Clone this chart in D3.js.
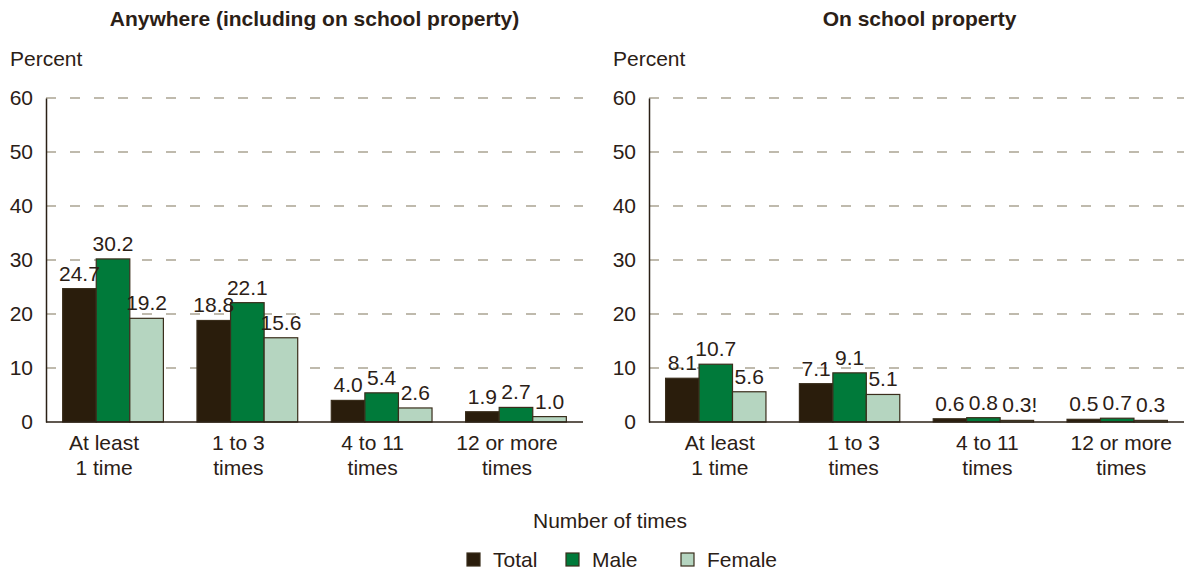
<!DOCTYPE html>
<html>
<head>
<meta charset="utf-8">
<script src="https://cdn.jsdelivr.net/npm/d3@7"></script>
<style>
  body { margin: 0; background: #fff; }
  svg text { font-family: Arial, "Liberation Sans", Helvetica, sans-serif; fill: #2b2016; }
</style>
</head>
<body>
<svg id="chart" width="1186" height="573"></svg>
<script>
// Number of times students were in a physical fight, by sex (percent)
const categories = ["At least|1 time", "1 to 3|times", "4 to 11|times", "12 or more|times"];
const seriesNames = ["Total", "Male", "Female"];
const seriesColors = ["#2a1d0c", "#007a3a", "#b5d5c0"];

const anywhereTotal  = [24.7, 18.8, 4.0, 1.9];
const anywhereMale   = [30.2, 22.1, 5.4, 2.7];
const anywhereFemale = [19.2, 15.6, 2.6, 1.0];
const anywhereNotes  = ["", "", "", ""];

const schoolTotal  = [8.1, 7.1, 0.6, 0.5];
const schoolMale   = [10.7, 9.1, 0.8, 0.7];
const schoolFemale = [5.6, 5.1, 0.3, 0.3];
const schoolNotes  = ["", "", "!", ""]; // "!" = interpret with caution (female series)

const yTicks = [0, 10, 20, 30, 40, 50, 60];
const yLabel = "Percent";
const xTitle = "Number of times";

const panels = [
  { title: "Anywhere (including on school property)", left: 46, right: 583, labelShift: -9, titleShift: 0,
    series: [anywhereTotal, anywhereMale, anywhereFemale], notes: anywhereNotes },
  { title: "On school property", left: 649, right: 1184, labelShift: 4, titleShift: 3,
    series: [schoolTotal, schoolMale, schoolFemale], notes: schoolNotes }
];

const svg = d3.select("#chart");
const plotTop = 98, plotBottom = 422;
const ink = "#2b2016";
const fs = 21;

const y = d3.scaleLinear().domain([0, 60]).range([plotBottom, plotTop]);

panels.forEach(p => {
  const g = svg.append("g");
  const x0 = d3.scaleBand().domain(categories).range([p.left, p.right])
    .paddingInner(0.25).paddingOuter(0.124);
  const x1 = d3.scaleBand().domain(seriesNames).range([0, x0.bandwidth()]);

  // title
  g.append("text").attr("x", (p.left + p.right) / 2 + p.titleShift).attr("y", 26)
    .attr("text-anchor", "middle").attr("font-size", fs).attr("font-weight", "bold")
    .text(p.title);

  // y label
  g.append("text").attr("x", p.left - 36).attr("y", 66).attr("font-size", fs).text(yLabel);

  // dashed gridlines
  g.append("g").selectAll("line").data(yTicks.filter(t => t > 0)).join("line")
    .attr("x1", p.left).attr("x2", p.right)
    .attr("y1", d => y(d)).attr("y2", d => y(d))
    .attr("stroke", "#aaa493").attr("stroke-width", 1.3)
    .attr("stroke-dasharray", "10,14");

  // y axis
  const yAxis = g.append("g").attr("transform", `translate(${p.left},0)`)
    .call(d3.axisLeft(y).tickValues(yTicks).tickSize(0).tickPadding(13));
  yAxis.select(".domain").attr("stroke", ink).attr("stroke-width", 1.5);
  yAxis.selectAll("text").attr("font-size", fs).style("fill", ink)
    .attr("font-family", "Arial, 'Liberation Sans', sans-serif");

  // bars
  const groups = g.append("g").selectAll("g").data(categories).join("g")
    .attr("transform", d => `translate(${x0(d)},0)`);

  groups.each(function(cat, ci) {
    const grp = d3.select(this);
    const rows = seriesNames.map((s, si) => ({
      s, si, v: p.series[si][ci], note: si === 2 ? p.notes[ci] : ""
    }));
    grp.selectAll("rect").data(rows).join("rect")
      .attr("x", d => x1(d.s))
      .attr("y", d => y(d.v))
      .attr("width", x1.bandwidth())
      .attr("height", d => y(0) - y(d.v))
      .attr("fill", (d) => seriesColors[d.si])
      .attr("stroke", "#3a2e1c").attr("stroke-width", 1.2);
    grp.selectAll("text.val").data(rows).join("text").attr("class", "val")
      .attr("x", d => x1(d.s) + x1.bandwidth() / 2 + (d.note ? 3 : 0))
      .attr("y", d => y(d.v) - 8)
      .attr("text-anchor", "middle").attr("font-size", fs)
      .text(d => d.v.toFixed(1) + d.note);
  });

  // x axis baseline
  g.append("line").attr("x1", p.left).attr("x2", p.right)
    .attr("y1", plotBottom).attr("y2", plotBottom)
    .attr("stroke", ink).attr("stroke-width", 1.5);

  // category labels (two lines)
  const xl = g.append("g").selectAll("text").data(categories).join("text")
    .attr("text-anchor", "middle").attr("font-size", fs)
    .attr("transform", d => `translate(${x0(d) + x0.bandwidth() / 2 + p.labelShift},0)`);
  xl.selectAll("tspan").data(d => d.split("|")).join("tspan")
    .attr("x", 0).attr("y", (d, i) => 450 + i * 25).text(d => d);
});

// x title
svg.append("text").attr("x", 610).attr("y", 528).attr("text-anchor", "middle")
  .attr("font-size", fs).text(xTitle);

// legend
const legendX = [467, 566, 681];
const legend = svg.append("g").selectAll("g").data(seriesNames).join("g")
  .attr("transform", (d, i) => `translate(${legendX[i]},553)`);
legend.append("rect").attr("width", 13).attr("height", 13)
  .attr("fill", (d, i) => seriesColors[i]).attr("stroke", "#3a2e1c").attr("stroke-width", 1.2);
legend.append("text").attr("x", 26).attr("y", 14).attr("font-size", fs).text(d => d);
</script>
</body>
</html>
